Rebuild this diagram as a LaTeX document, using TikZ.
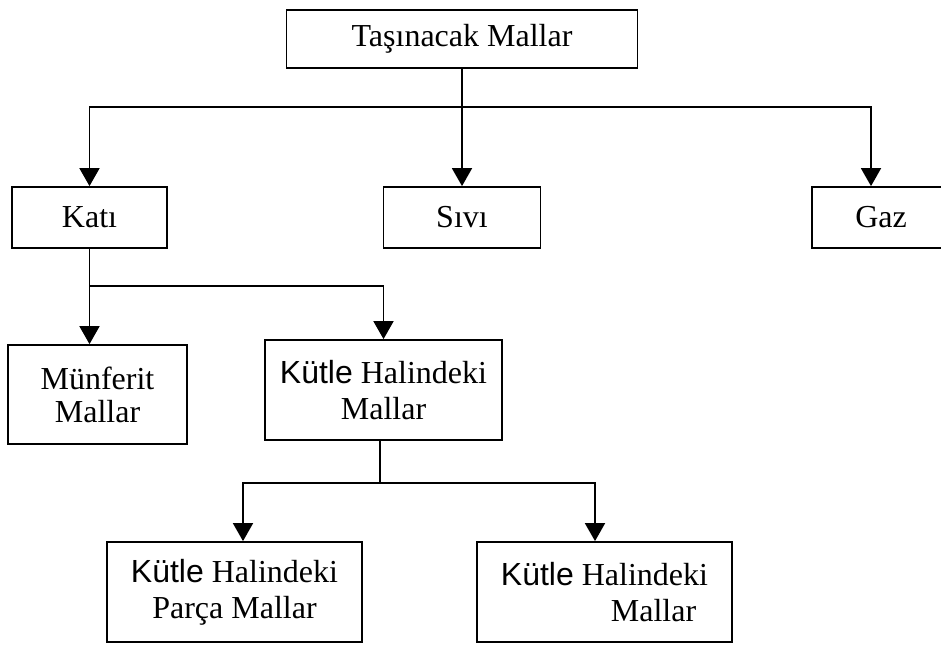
\documentclass[tikz,border=0pt]{standalone}
\usepackage{fontspec}
\setmainfont{Liberation Serif}
\newfontfamily\arialfont{Liberation Sans}
\usepackage{tikz}
\usetikzlibrary{arrows.meta}

\newcommand{\kutleword}{{\arialfont Kütle}}

\tikzset{
  box/.style={draw, inner sep=0pt, align=center,
    font=\fontsize{16pt}{18pt}\selectfont},
}

\begin{document}
\begin{tikzpicture}[x=0.5pt, y=-0.5pt, line width=0.9pt,
    >={Triangle[width=10pt, length=9pt]}]
    \path[use as bounding box, clip] (0,0) rectangle (941,644);

    \node[box, minimum width=175.5pt, minimum height=29pt](mallar) at (462, 39) {Taşınacak Mallar};

    \node[box, minimum width=77.5pt, minimum height=30.5pt](kati) at (89.5, 217.5) {Katı};
    \node[box, minimum width=78.5pt, minimum height=30.5pt](sivi) at (462, 217.5) {Sıvı};
    \node[box, minimum width=69pt, minimum height=30.5pt](gaz) at (881, 217.5) {Gaz};

    \node[box, font=\fontsize{16pt}{16.5pt}\selectfont, minimum width=89.5pt, minimum height=49.5pt](munferit) at (97.5, 394.5) {Münferit\\Mallar};
    \node[box, minimum width=118.5pt, minimum height=50pt](kutle) at (383.5, 390) {\kutleword{} Halindeki\\Mallar};

    \node[box, minimum width=127.5pt, minimum height=50pt](parca) at (234.5, 592) {\kutleword{} Halindeki\\Parça Mallar};
    \node[box, align=left, minimum width=127.5pt, minimum height=50pt](kutlem) at (604.5, 592) {\kutleword{} Halindeki\\\hspace*{55pt}Mallar};

    \coordinate(bar1) at (462, 107);
    \coordinate(bar2) at (89.5, 286);
    \coordinate(bar3) at (380, 483);

    \draw[->] (mallar) -- (sivi);
    \draw[->] (bar1) -| (kati);
    \draw[->] (bar1) -| ([xshift=-5pt]gaz.north);

    \draw[->] (kati) -- (kati |- munferit.north);
    \draw[->] (bar2) -| (kutle);

    \draw (kutle.south -| bar3) -- (bar3);
    \draw[->] (bar3) -| ([xshift=4.25pt]parca.north);
    \draw[->] (bar3) -| ([xshift=-4.75pt]kutlem.north);
  \end{tikzpicture}
\end{document}
